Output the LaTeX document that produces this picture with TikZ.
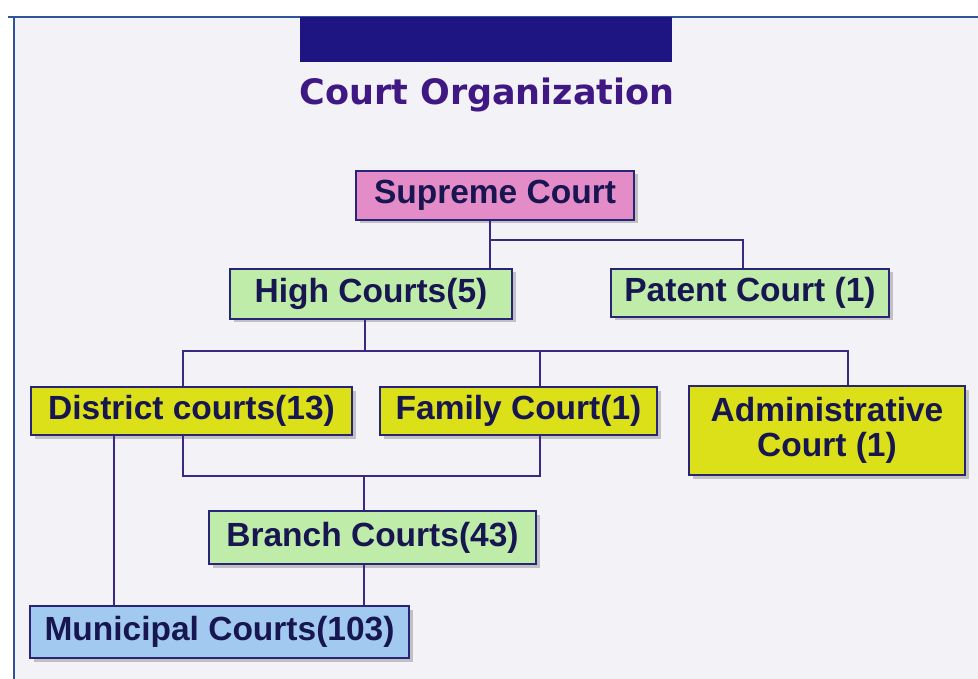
\documentclass[tikz,border=0pt]{standalone}
\usepackage{fontspec}
\setmainfont{Liberation Sans}
\newfontfamily\titlefont{DejaVu Sans}
\usetikzlibrary{shadows}
\definecolor{pinkc}{RGB}{228,140,200}
\definecolor{greenc}{RGB}{192,236,170}
\definecolor{yellowc}{RGB}{220,224,24}
\definecolor{bluec}{RGB}{162,202,240}
\definecolor{borderc}{RGB}{40,36,120}
\definecolor{linec}{RGB}{60,40,130}
\definecolor{barc}{RGB}{30,20,130}
\definecolor{titlec}{RGB}{64,24,132}
\definecolor{textc}{RGB}{24,22,80}
\definecolor{paperc}{RGB}{243,243,247}
\tikzset{
  court/.style={draw=borderc, line width=2pt, inner sep=0pt, text=textc,
    font=\fontsize{33.5}{36}\selectfont\bfseries, align=center,
    drop shadow={shadow xshift=3.5pt, shadow yshift=-3.5pt, opacity=0.35, fill=black!60}},
  conn/.style={draw=linec, line width=1.6pt},
  frame/.style={draw=linec!80!cyan, line width=1.6pt}
}
\begin{document}
\begin{tikzpicture}[x=1pt,y=-1pt]
\useasboundingbox (0,0) rectangle (978,679);
\fill[white] (0,0) rectangle (978,679);
\fill[paperc] (14,17) rectangle (978,679);
\draw[frame] (8,17) -- (978,17);
\draw[frame] (14,17) -- (14,679);
\fill[barc] (300,17) rectangle (672,62);
\node[text=titlec, font=\titlefont\fontsize{35}{40}\selectfont\bfseries] (title) at (487,95) {Court Organization};

% boxes
\node[court, fill=pinkc, minimum width=278pt, minimum height=49pt] (sup) at (495,195.5) {Supreme Court};
\node[court, fill=greenc, minimum width=282pt, minimum height=50pt] (high) at (371,294) {High Courts(5)};
\node[court, fill=greenc, minimum width=278pt, minimum height=48pt] (patent) at (750,293) {Patent Court (1)};
\node[court, fill=yellowc, minimum width=321pt, minimum height=48pt] (dist) at (191.5,411) {District courts(13)};
\node[court, fill=yellowc, minimum width=277pt, minimum height=48pt] (fam) at (518.5,411) {Family Court(1)};
\node[court, fill=yellowc, minimum width=276pt, minimum height=89pt, font=\fontsize{33.5}{35}\selectfont\bfseries] (admin) at (827,430.5) {Administrative\\Court (1)};
\node[court, fill=greenc, minimum width=327pt, minimum height=53pt] (branch) at (372.5,537.5) {Branch Courts(43)};
\node[court, fill=bluec, minimum width=379pt, minimum height=52pt] (muni) at (219.5,632) {Municipal Courts(103)};

% junctions
\coordinate (j1) at (490,240);
\coordinate (j2) at (365,351);
\coordinate (j3) at (364,476);

\draw[conn] (sup.south -| j1) -- (high.north -| j1);
\draw[conn] (j1) -- (743,240) -- (patent.north -| 743,0);
\draw[conn] (high.south -| j2) -- (j2);
\draw[conn] (dist.north -| 183,0) -- (183,351) -- (848,351) -- (admin.north -| 848,0);
\draw[conn] (fam.north -| 540,0) -- (540,351);
\draw[conn] (dist.south -| 183,0) -- (183,476) -- (540,476) -- (fam.south -| 540,0);
\draw[conn] (j3) -- (branch.north -| j3);
\draw[conn] (branch.south -| j3) -- (muni.north -| j3);
\draw[conn] (dist.south -| 114,0) -- (muni.north -| 114,0);
\end{tikzpicture}
\end{document}
